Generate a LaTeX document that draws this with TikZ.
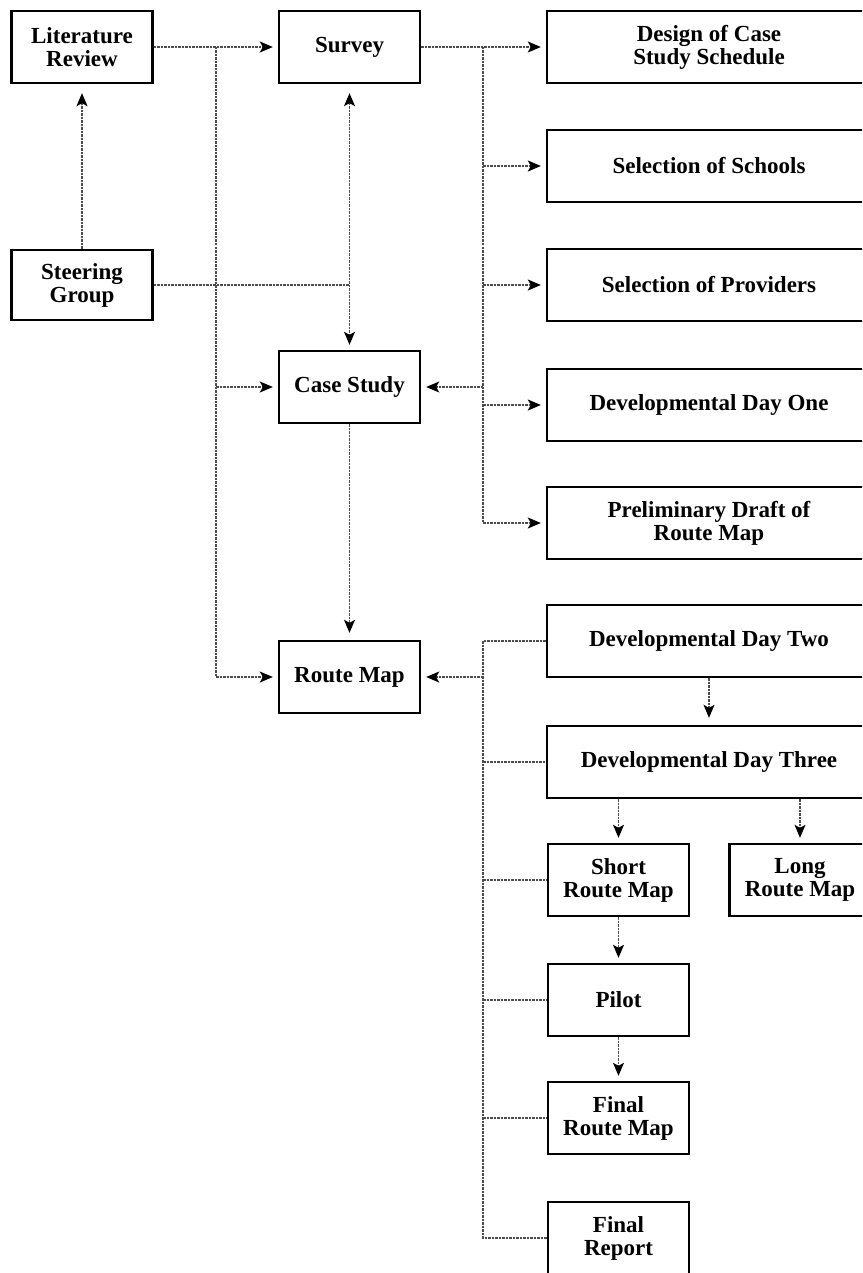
\documentclass[tikz,border=0pt]{standalone}
\usepackage{fontspec}
\setmainfont{Liberation Serif}
\usepackage{tikz}
\usetikzlibrary{positioning}
\usetikzlibrary{arrows,arrows.meta}
\tikzset{box/.style={draw, line width=2.4pt, align=center, inner sep=0pt,
    minimum height=72pt, font=\bfseries\fontsize{23}{23}\selectfont}}
\tikzset{smallbox/.style={box, minimum width=141pt}}
\tikzset{widebox/.style={box, minimum width=324pt}}
\tikzset{conn/.style={draw=black!70, line width=1.3pt, dash pattern=on 2.5pt off 1pt}}
\tikzset{>={Stealth[length=13pt,width=11pt,inset=3pt,color=black]}}
\tikzset{tip/.style={conn, ->, shorten >=5pt}}

\begin{document}
\begin{tikzpicture}[x=1pt,y=-1pt]
\useasboundingbox (0,0) rectangle (862,1273);
\clip (0,0) rectangle (862,1273);
% left column and middle column
\node[smallbox] (litrev) at (82,47) {Literature\\Review};
\node[smallbox, minimum height=70pt] (steer) at (82,285) {Steering\\Group};
\node[smallbox] (survey) at (349.5,47) {Survey};
\node[smallbox] (casestudy) at (349.5,387) {Case Study};
\node[smallbox] (routemap) at (349.5,677) {Route Map};
% right column
\node[widebox] (design) at (709,47) {Design of Case\\Study Schedule};
\node[widebox] (schools) at (709,166) {Selection of Schools};
\node[widebox] (providers) at (709,285) {Selection of Providers};
\node[widebox] (dayone) at (709,405) {Developmental Day One};
\node[widebox] (draft) at (709,523) {Preliminary Draft of\\Route Map};
\node[widebox] (daytwo) at (709,641) {Developmental Day Two};
\node[widebox] (daythree) at (709,762) {Developmental Day Three};
\node[smallbox] (shortmap) at (618.5,880) {Short\\Route Map};
\node[smallbox] (longmap) at (800,880) {Long\\Route Map};
\node[smallbox] (pilot) at (618.5,1000) {Pilot};
\node[smallbox] (finalmap) at (618.5,1118) {Final\\Route Map};
\node[smallbox] (report) at (618.5,1238) {Final\\Report};
% bus lines
\coordinate (busa) at (216,47);
\coordinate (busb) at (483,47);
\coordinate (busc) at (483,641);
\draw[tip] (litrev.east) -- (survey.west);
\draw[tip] (busa) |- (routemap.west);
\draw[tip] (busa |- casestudy.west) -- (casestudy.west);
\draw[tip, shorten >=9pt] (steer.north) -- (litrev.south);
\draw[conn] (steer.east) -- (survey.south |- steer.east);
\draw[tip, <->, shorten <=9pt] (survey.south) -- (casestudy.north);
\draw[tip, shorten >=7pt] (casestudy.south) -- (routemap.north);
\draw[tip] (survey.east) -- (design.west);
\draw[tip] (busb) |- (draft.west);
\foreach \n in {schools,providers,dayone}
  \draw[tip] (busb |- \n.west) -- (\n.west);
\draw[tip] (busb |- casestudy.east) -- (casestudy.east);
% lower bus
\draw[conn] (daytwo.west) -| (busc) |- (report.west);
\foreach \n in {daythree,shortmap,pilot,finalmap}
  \draw[conn] (busc |- \n.west) -- (\n.west);
\draw[tip] (busc |- routemap.east) -- (routemap.east);
\draw[tip, shorten >=7pt] (daytwo.south) -- (daythree.north);
\draw[tip] (daythree.south -| shortmap.north) -- (shortmap.north);
\draw[tip] (daythree.south -| longmap.north) -- (longmap.north);
\draw[tip] (shortmap.south) -- (pilot.north);
\draw[tip] (pilot.south) -- (finalmap.north);
\end{tikzpicture}
\end{document}
